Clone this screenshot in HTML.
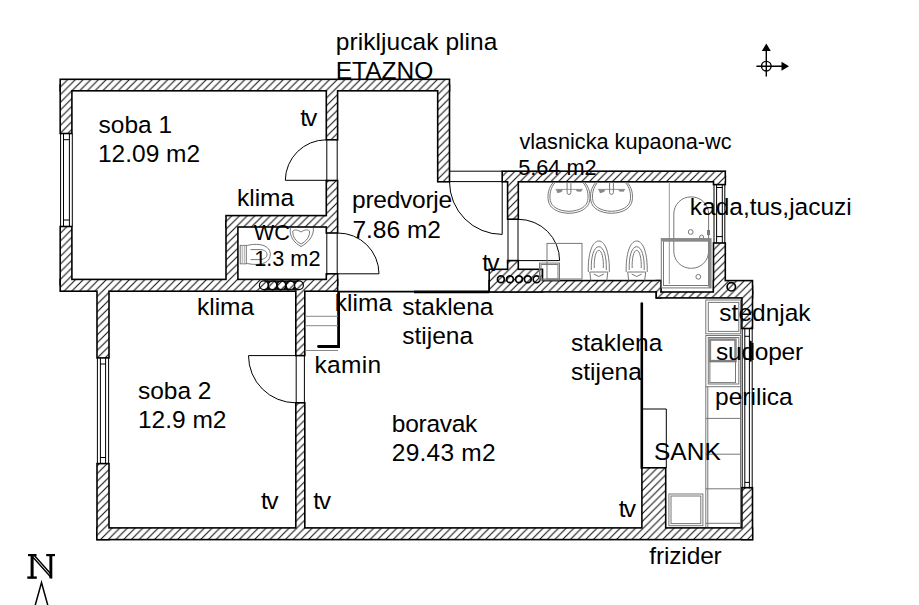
<!DOCTYPE html>
<html><head><meta charset="utf-8"><style>
html,body{margin:0;padding:0;background:#fff;}
svg{display:block;}
</style></head><body>
<svg width="919" height="605" viewBox="0 0 919 605">
<rect width="919" height="605" fill="#fff"/>
<defs>
<pattern id="hatch" patternUnits="userSpaceOnUse" x="1" y="0" width="7.7" height="7.7">
<rect width="7.7" height="7.7" fill="#fff"/>
<path d="M0,7.7 L7.7,0 M-1,1 L1,-1 M6.7,8.7 L8.7,6.7" stroke="#111" stroke-width="1.1"/>
</pattern>
</defs>
<g fill="none" stroke="#000" stroke-width="3.20">
<rect x="61.00" y="80.10" width="387.70" height="9.90"/>
<rect x="61.00" y="85.80" width="10.10" height="46.90"/>
<rect x="61.00" y="227.30" width="10.10" height="56.90"/>
<rect x="327.10" y="85.80" width="9.70" height="53.20"/>
<rect x="327.10" y="181.30" width="9.70" height="50.90"/>
<rect x="327.10" y="274.60" width="9.70" height="9.60"/>
<rect x="438.50" y="85.80" width="10.20" height="95.20"/>
<rect x="61.00" y="280.20" width="275.80" height="10.20"/>
<rect x="226.80" y="216.40" width="104.40" height="9.80"/>
<rect x="226.80" y="221.80" width="10.30" height="62.40"/>
<rect x="97.80" y="285.80" width="10.40" height="71.30"/>
<rect x="97.80" y="464.40" width="10.40" height="74.40"/>
<rect x="97.80" y="528.70" width="653.90" height="10.10"/>
<rect x="296.60" y="285.80" width="7.40" height="69.00"/>
<rect x="296.60" y="403.60" width="7.40" height="129.60"/>
<rect x="503.00" y="172.00" width="221.50" height="9.00"/>
<rect x="508.40" y="176.80" width="9.10" height="41.60"/>
<rect x="508.40" y="261.40" width="9.10" height="23.80"/>
<rect x="490.00" y="270.10" width="51.70" height="21.00"/>
<rect x="490.00" y="281.40" width="170.10" height="9.70"/>
<rect x="657.10" y="281.40" width="3.00" height="15.70"/>
<rect x="657.10" y="292.80" width="94.60" height="4.30"/>
<rect x="714.30" y="243.80" width="10.20" height="49.40"/>
<rect x="714.30" y="176.80" width="10.20" height="7.00"/>
<rect x="714.30" y="281.40" width="37.40" height="11.80"/>
<rect x="742.70" y="286.80" width="9.00" height="40.90"/>
<rect x="742.70" y="488.50" width="9.00" height="50.30"/>
<rect x="642.70" y="468.60" width="22.20" height="64.60"/>
</g><g fill="url(#hatch)">
<rect x="61.00" y="80.10" width="387.70" height="9.90"/>
<rect x="61.00" y="85.80" width="10.10" height="46.90"/>
<rect x="61.00" y="227.30" width="10.10" height="56.90"/>
<rect x="327.10" y="85.80" width="9.70" height="53.20"/>
<rect x="327.10" y="181.30" width="9.70" height="50.90"/>
<rect x="327.10" y="274.60" width="9.70" height="9.60"/>
<rect x="438.50" y="85.80" width="10.20" height="95.20"/>
<rect x="61.00" y="280.20" width="275.80" height="10.20"/>
<rect x="226.80" y="216.40" width="104.40" height="9.80"/>
<rect x="226.80" y="221.80" width="10.30" height="62.40"/>
<rect x="97.80" y="285.80" width="10.40" height="71.30"/>
<rect x="97.80" y="464.40" width="10.40" height="74.40"/>
<rect x="97.80" y="528.70" width="653.90" height="10.10"/>
<rect x="296.60" y="285.80" width="7.40" height="69.00"/>
<rect x="296.60" y="403.60" width="7.40" height="129.60"/>
<rect x="503.00" y="172.00" width="221.50" height="9.00"/>
<rect x="508.40" y="176.80" width="9.10" height="41.60"/>
<rect x="508.40" y="261.40" width="9.10" height="23.80"/>
<rect x="490.00" y="270.10" width="51.70" height="21.00"/>
<rect x="490.00" y="281.40" width="170.10" height="9.70"/>
<rect x="657.10" y="281.40" width="3.00" height="15.70"/>
<rect x="657.10" y="292.80" width="94.60" height="4.30"/>
<rect x="714.30" y="243.80" width="10.20" height="49.40"/>
<rect x="714.30" y="176.80" width="10.20" height="7.00"/>
<rect x="714.30" y="281.40" width="37.40" height="11.80"/>
<rect x="742.70" y="286.80" width="9.00" height="40.90"/>
<rect x="742.70" y="488.50" width="9.00" height="50.30"/>
<rect x="642.70" y="468.60" width="22.20" height="64.60"/>
</g>

<g fill="none" stroke="#000" stroke-width="1">
<!-- windows soba1 -->
<path d="M60.6,133.5V226.5 M63.5,133.5V226.5 M69.4,133.5V226.5 M72.3,133.5V226.5 M63.5,139.7H69.4 M63.5,220H69.4"/>
<!-- window soba2 -->
<path d="M97.4,357.9V463.6 M100.4,357.9V463.6 M105.6,357.9V463.6 M108.6,357.9V463.6 M100.4,364H105.6 M100.4,457.5H105.6"/>
<!-- door frames -->
<path d="M326.8,139.8V180.5 M337.2,139.8V180.5"/>
<path d="M326.8,233V273.8 M337.2,233V273.8"/>
<path d="M449.5,171.2H502.2 M449.5,181.6H502.2"/>
<path d="M508,219.2V260.6 M518,219.2V260.6"/>
<path d="M296.2,355.6V402.8 M304.4,355.6V402.8"/>
<!-- door leaves and arcs -->
<path d="M326.3,180.3H285.3 A41,41 0 0 1 326.3,139.8"/>
<path d="M337.6,273.8H379 A41,41 0 0 0 337.6,233"/>
<path d="M502.2,181.8V234.4 A52.6,52.6 0 0 1 449.5,181.8"/>
<path d="M518.3,260.6H559.6 A41.3,41.3 0 0 0 518.3,219.3"/>
<path d="M295.8,355.6H248.5 A47.2,47.2 0 0 0 295.8,402.8"/>
<!-- bath right window -->
<path d="M714,184.6V243 M716.6,184.6V243 M722.3,184.6V243 M724.8,184.6V243 M716.6,187.5H722.3 M716.6,236.6H722.3"/>
<!-- kitchen window -->
<path d="M742.2,328.8V488.5 M744.8,328.8V488.5 M749.4,328.8V488.5 M752.2,328.8V488.5 M744.8,336.3H749.4 M744.8,482.4H749.4"/>
</g>
<g fill="none" stroke="#000" stroke-linecap="round">
<path d="M338,291.6H414" stroke-width="1.8"/>
<path d="M414,291.9H489.2" stroke-width="2.8" stroke-linecap="butt"/>
<path d="M338.6,293V346.5 H318.5" stroke-width="2.8"/>
<path d="M641.8,303.5V468" stroke-width="2.6"/>
<path d="M750.6,342V360.5" stroke-width="2.4"/>
</g>
<!-- pipes -->
<g fill="none" stroke="#000" stroke-width="1.7">
</g>
<path d="M263.8,280.2H299V290.3H263.8Z" fill="#111"/>
<g fill="url(#hatch)" stroke="#000" stroke-width="1.2">
<circle cx="263.8" cy="285.3" r="4.4"/><circle cx="272.6" cy="285.3" r="4.2"/><circle cx="281.5" cy="285.3" r="4.2"/><circle cx="290.4" cy="285.3" r="4.2"/><circle cx="299" cy="285.3" r="4.4"/>
</g>
<g fill="none" stroke="#000" stroke-width="1.7">
<circle cx="500.9" cy="279.3" r="3.4"/><circle cx="510" cy="279.3" r="3.4"/><circle cx="519" cy="279.3" r="3.4"/><circle cx="527.8" cy="279.3" r="3.4"/><circle cx="536.6" cy="279.3" r="3.4"/>
<circle cx="731.3" cy="286.8" r="4.2"/>
</g>
<!-- kamin steps -->
<g fill="none" stroke="#888" stroke-width="1">
<path d="M305,316.3H338 M305,325.7H338 M305,350.5H338"/>
</g>
<!-- fixtures gray -->
<g fill="none" stroke="#777" stroke-width="1">
<!-- sinks -->
<g transform="translate(569,182)">
<path d="M-15.2,0 C-20.5,5 -21.8,13 -20.6,19 C-19.3,26 -12,31 0,31.3 C12,31 19.3,26 20.6,19 C21.8,13 20.5,5 15.2,0"/>
<path d="M-13.4,0 C-18.5,5 -19.8,13 -18.7,18.5 C-17.5,24.5 -11,29 0,29.3 C11,29 17.5,24.5 18.7,18.5 C19.8,13 18.5,5 13.4,0"/>
<path d="M-13.5,7.4H13.5" stroke="#999"/><path d="M-13,7.6 L-6,7.6 L-7.5,10 L-11.5,11.2Z M6.5,7.6 L13.5,7.6 L12,9.8 L8,9.6Z" fill="#888" stroke="none"/>
<path d="M-1.9,0V10.5 A1.9,1.9 0 0 0 1.9,10.5V0"/>
</g>
<g transform="translate(611.5,182)">
<path d="M-15.2,0 C-20.5,5 -21.8,13 -20.6,19 C-19.3,26 -12,31 0,31.3 C12,31 19.3,26 20.6,19 C21.8,13 20.5,5 15.2,0"/>
<path d="M-13.4,0 C-18.5,5 -19.8,13 -18.7,18.5 C-17.5,24.5 -11,29 0,29.3 C11,29 17.5,24.5 18.7,18.5 C19.8,13 18.5,5 13.4,0"/>
<path d="M-13.5,7.4H13.5" stroke="#999"/><path d="M-13,7.6 L-6,7.6 L-7.5,10 L-11.5,11.2Z M6.5,7.6 L13.5,7.6 L12,9.8 L8,9.6Z" fill="#888" stroke="none"/>
<path d="M-1.9,0V10.5 A1.9,1.9 0 0 0 1.9,10.5V0"/>
</g>
<!-- toilets -->
<g transform="translate(598.8,0)">
<path d="M-10.5,272 C-11,255 -7,241 0,241 C7,241 11,255 10.5,272"/>
<path d="M-7.5,270 C-8,257 -5,246.7 0,246.7 C5,246.7 8,257 7.5,270"/>
<path d="M-4.5,268 C-5,259 -3,250.3 0,250.3 C3,250.3 5,259 4.5,268"/>
<path d="M-9,272H9 L8,280.5 M-9,272 L-8,280.5 M-5,274 L0,276.5 L5,274"/>
</g>
<g transform="translate(636.7,0)">
<path d="M-10.5,272 C-11,255 -7,241 0,241 C7,241 11,255 10.5,272"/>
<path d="M-7.5,270 C-8,257 -5,246.7 0,246.7 C5,246.7 8,257 7.5,270"/>
<path d="M-4.5,268 C-5,259 -3,250.3 0,250.3 C3,250.3 5,259 4.5,268"/>
<path d="M-9,272H9 L8,280.5 M-9,272 L-8,280.5 M-5,274 L0,276.5 L5,274"/>
</g>
<!-- bathtub -->
<path d="M669.3,182V284" stroke="#999"/>
<rect x="673.8" y="196.9" width="34.8" height="71.4" rx="17" ry="17"/>
<circle cx="690.7" cy="232" r="2.4"/><circle cx="701.6" cy="237.1" r="2"/><circle cx="698.3" cy="276.8" r="2.4"/>
<rect x="707.5" y="230.6" width="2" height="4"/>
<!-- shower enclosure -->
<rect x="661.3" y="238.7" width="49.7" height="49.2"/>
<rect x="663.5" y="241" width="45" height="44.5"/>
<path d="M661.3,239.9H711 M709.7,238.7V287.9" stroke="#888" stroke-width="2.5"/>
<!-- boxes near bath door -->
<rect x="547" y="243.4" width="35" height="35.6"/>
<rect x="539.5" y="263.1" width="20" height="17"/>
<rect x="541" y="264.5" width="17" height="14.5"/>
<!-- WC sink -->
<path d="M290.4,228 C289,236 294,243 301.1,246.5 C308,243 314,236 313.4,228"/>
<path d="M292.8,231 C292.5,237 296,241.5 301.1,244 C306,241.5 309.8,237 309.6,231 C307,229 304,230 301.1,232 C298,230 295,229 292.8,231Z"/>
<!-- WC toilet -->
<rect x="240.2" y="245.4" width="6.1" height="18.4"/>
<path d="M242.2,245.4V263.8 M244.3,245.4V263.8" stroke="#aaa"/>
<path d="M246.3,245.6 C249,245.2 250,244.4 256.5,244.4 C266,244.4 270.3,249 270.3,254.4 C270.3,259.8 266,264.4 256.5,264.4 C250,264.4 249,263.6 246.3,263.4"/>
<path d="M250.5,249.6 H258 C264,249.2 267,251.5 267,254.5 C267,257.5 264,259.8 258,259.6 H250.5"/>
<!-- kitchen -->
<rect x="705.8" y="300" width="34.7" height="33.8"/>
<rect x="708.3" y="302.4" width="30.5" height="29"/>
<rect x="705.8" y="335.5" width="34.7" height="51.2"/>
<rect x="708.3" y="337.5" width="30.5" height="46.5"/>
<rect x="709.9" y="339.6" width="25.6" height="21.5" stroke="#888" stroke-width="2.5"/>
<rect x="709.9" y="361.1" width="25.6" height="21.5"/>
<path d="M705.8,386.7V527 M707.8,386.7V527 M740.5,386.7V527 M705.8,418.4H740.5 M705.8,454.2H740.5 M705.8,488.8H740.5 M705.8,523.3H740.5"/>
<rect x="668.9" y="494" width="34" height="31.7"/>
<rect x="671" y="496" width="29.8" height="27.6"/>
</g>
<g fill="none" stroke="#000" stroke-width="1">
<path d="M641.8,409H666.3V468"/>
</g>
<!-- compass -->
<g stroke="#000" stroke-width="1.4" fill="none">
<circle cx="766.3" cy="66.2" r="4.8"/>
<path d="M756.4,66.2H782 M766.3,50.5V76.6"/>
</g>
<path d="M761.8,51 L766.3,43.6 L770.8,51Z M781.5,61.7 L789,66.2 L781.5,70.7Z" fill="#000"/>
<g fill="#000">
<rect x="28" y="554" width="8.5" height="2.2"/>
<rect x="30.6" y="554" width="3" height="24.4"/>
<rect x="27.3" y="576.4" width="9.5" height="2.4"/>
<rect x="46.2" y="554" width="8.8" height="2.2"/>
<rect x="49.4" y="554" width="2.9" height="24.4"/>
</g>
<path d="M31,555 L51.8,578.2 M34.2,555.2 L50.2,573.2" fill="none" stroke="#000" stroke-width="1.4"/>
<path d="M35,606 L41.5,582.5 L48,606" fill="none" stroke="#000" stroke-width="1.5"/>

<g font-family="Liberation Sans, sans-serif" fill="#000">
<text x="335.81" y="49.80" font-size="24.50" textLength="161.63">prikljucak plina</text>
<text x="335.78" y="79.30" font-size="24.50">ETAZNO</text>
<text x="98.53" y="132.70" font-size="24.50">soba 1</text>
<text x="97.96" y="162.00" font-size="24.50">12.09 m2</text>
<text x="300.33" y="125.70" font-size="24.50" textLength="16.90">tv</text>
<text x="236.95" y="206.10" font-size="24.50">klima</text>
<text x="253.79" y="240.30" font-size="21.70">WC</text>
<text x="254.17" y="266.40" font-size="21.70">1.3 m2</text>
<text x="352.11" y="208.30" font-size="24.50" textLength="99.97">predvorje</text>
<text x="352.41" y="237.50" font-size="24.50">7.86 m2</text>
<text x="519.39" y="149.20" font-size="21.70">vlasnicka kupaona-wc</text>
<text x="518.23" y="174.60" font-size="21.70">5.64 m2</text>
<text x="689.75" y="215.40" font-size="24.50">kada,tus,jacuzi</text>
<text x="482.13" y="271.40" font-size="24.50" textLength="17.40">tv</text>
<text x="196.95" y="315.20" font-size="24.50">klima</text>
<text x="334.85" y="310.80" font-size="24.50">klima</text>
<text x="402.23" y="315.40" font-size="24.50">staklena</text>
<text x="402.23" y="344.10" font-size="24.50">stijena</text>
<text x="314.45" y="373.30" font-size="24.50" textLength="66.75">kamin</text>
<text x="571.03" y="351.10" font-size="24.50">staklena</text>
<text x="571.03" y="380.10" font-size="24.50">stijena</text>
<text x="137.93" y="398.50" font-size="24.50">soba 2</text>
<text x="137.96" y="427.70" font-size="24.50">12.9 m2</text>
<text x="391.81" y="431.90" font-size="24.50" textLength="85.50">boravak</text>
<text x="391.77" y="461.00" font-size="24.50" textLength="103.80">29.43 m2</text>
<text x="719.33" y="320.70" font-size="24.50">stednjak</text>
<text x="716.03" y="359.60" font-size="24.50" textLength="87.07">sudoper</text>
<text x="715.11" y="404.90" font-size="24.50">perilica</text>
<text x="654.00" y="460.40" font-size="24.50">SANK</text>
<text x="260.93" y="509.00" font-size="24.50" textLength="17.60">tv</text>
<text x="313.33" y="508.50" font-size="24.50" textLength="17.60">tv</text>
<text x="618.63" y="517.10" font-size="24.50" textLength="17.40">tv</text>
<text x="649.33" y="563.80" font-size="24.50" textLength="72.45">frizider</text>
</g>
</svg>
</body></html>
